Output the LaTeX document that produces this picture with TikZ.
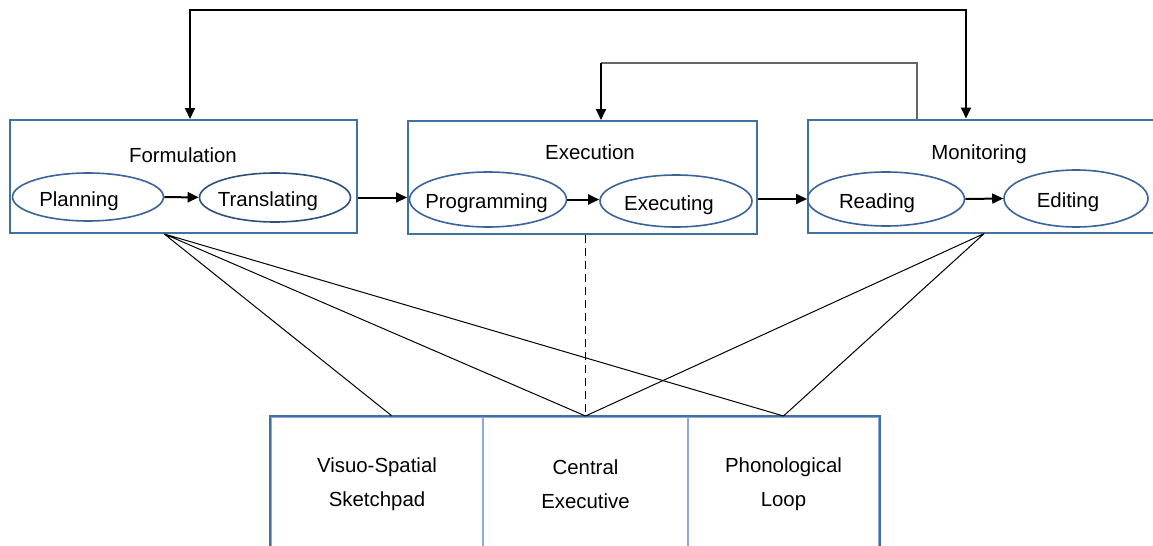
\documentclass[tikz,border=0pt]{standalone}
\usepackage{fontspec}
\setmainfont{Liberation Sans}
\usetikzlibrary{arrows.meta,calc,shapes.geometric}
\definecolor{boxblue}{HTML}{41719C}
\definecolor{ovalblue}{HTML}{3A6399}
\definecolor{cellblue}{HTML}{8EA9DB}
\newcommand{\ovaltext}[2]{\makebox[0pt]{#2\hspace*{#1}}}

\begin{document}
\begin{tikzpicture}[x=0.5pt,y=-0.5pt,
 every node/.style={font=\fontsize{10.2pt}{17pt}\selectfont,inner sep=0pt},
 stage/.style={draw=boxblue,line width=1pt,minimum height=56.5pt},
 title/.style={text height=7.4pt,text depth=0pt},
 oval/.style={ellipse,draw=ovalblue,line width=0.8pt,text height=9pt,text depth=0pt},
 cell/.style={draw=cellblue,line width=1pt,minimum height=67pt,align=center},
 arr/.style={line width=1pt,-{Triangle[length=5.5pt,width=5pt]}},
 link/.style={line width=0.5pt}]
\useasboundingbox (0,0) rectangle (1153,546);

\node[stage,minimum width=173.5pt] (form) at (183.5,176.5) {};
\node[stage,minimum width=174.5pt] (exec) at (582.5,177.5) {};
\node[stage,minimum width=181pt] (mon) at (989,176) {};

\node[title] (formt) at (183,155.5) {Formulation};
\node[title] (exect) at (590,152.5) {Execution};
\node[title] (mont) at (979,152) {Monitoring};

\node[oval,minimum width=75.5pt,minimum height=24pt] (plan) at (88,197) {\ovaltext{9pt}{Planning}};
\node[oval,draw=ovalblue!80!black,minimum width=75.5pt,minimum height=24.5pt] (transl) at (275,197.5) {\ovaltext{7pt}{Translating}};
\node[oval,minimum width=78.5pt,minimum height=27.5pt] (prog) at (488,199.5) {\ovaltext{1.5pt}{Programming}};
\node[oval,minimum width=76pt,minimum height=26pt] (exe) at (676,201) {\ovaltext{7pt}{Executing}};
\node[oval,minimum width=78.5pt,minimum height=27pt] (read) at (886,199) {\ovaltext{9pt}{Reading}};
\node[oval,minimum width=72pt,minimum height=28.5pt] (edit) at (1076,198.5) {\ovaltext{8pt}{Editing}};

\node[cell,minimum width=106pt] (vss) at (377,484) {Visuo-Spatial\\Sketchpad};
\node[cell,minimum width=102.5pt] (ce) at (585.5,484) {Central\\Executive};
\node[cell,minimum width=95.5pt] (phl) at (783.5,484) {Phonological\\Loop};
\draw[draw=boxblue,line width=1pt] (vss.south west) -- (vss.north west) -- (phl.north east) -- (phl.south east);

\draw[arr] (plan) -- (transl);
\draw[arr] (prog.east) -- (prog.east -| exe.west);
\draw[arr] (read.east) -- (edit.west);
\draw[arr] (form.east |- transl) -- (exec.west |- transl);
\draw[arr] (exec.east |- read) -- (mon.west |- read);

\coordinate (outerL) at (190,10);
\coordinate (outerR) at (966,10);
\draw[line width=1pt,{Triangle[length=5.5pt,width=5pt]}-{Triangle[length=5.5pt,width=5pt]}]
  (form.north -| outerL) -- (outerL) -- (outerR) -- (mon.north -| outerR);
\coordinate (innerR) at (917,63);
\coordinate (innerL) at (601,63);
\draw[line width=1pt,black!60] (mon.north -| innerR) -- (innerR) -- (innerL);
\draw[arr] (innerL) -- (exec.north -| innerL);

\coordinate (fanL) at (plan.east |- form.south);
\coordinate (gap) at ($(read.east)!.5!(edit.west)$);
\coordinate (fanR) at (gap |- mon.south);
\draw[link] (fanL) -- ([xshift=7.5pt]vss.north) (fanL) -- (ce.north) (fanL) -- (phl.north);
\draw[link] (fanR) -- (ce.north) (fanR) -- (phl.north);
\draw[link,dash pattern=on 4pt off 2.5pt] (exec.south -| ce.north) -- (ce.north);
\end{tikzpicture}
\end{document}
